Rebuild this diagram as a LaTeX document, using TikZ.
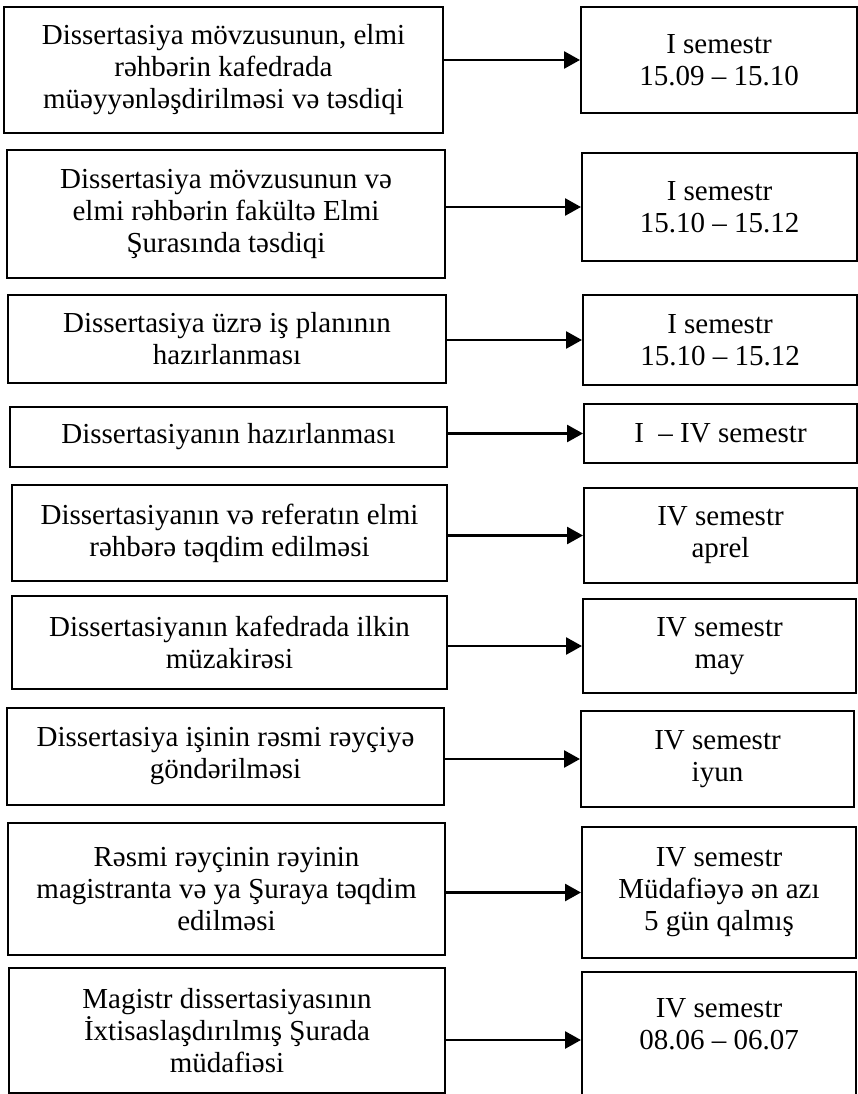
\documentclass[tikz,border=0pt]{standalone}
\usepackage{fontspec}
\setmainfont{Liberation Serif}
\usepackage{tikz}
\usetikzlibrary{positioning, calc, arrows.meta}

\begin{document}
\begin{tikzpicture}[x=1pt, y=-1pt,
    stagebox/.style={draw, line width=2pt, inner sep=0pt, align=center,
        font=\fontsize{29}{32}\selectfont},
    termbox/.style={stagebox},
    arrow/.style={-{Triangle[length=16pt,width=17pt]}, line width=2.7pt}]
    % Page frame
    \useasboundingbox (0,0) rectangle (858,1094);

    % Stages (left column)
    \node[stagebox, minimum width=439pt, minimum height=126pt] (l1) at (223.5,70)
        {Dissertasiya mövzusunun, elmi\\rəhbərin kafedrada\\müəyyənləşdirilməsi və təsdiqi};
    \node[stagebox, minimum width=438pt, minimum height=128pt] (l2) at (226,214)
        {Dissertasiya mövzusunun və\\elmi rəhbərin fakültə Elmi\\Şurasında təsdiqi};
    \node[stagebox, minimum width=438pt, minimum height=88pt] (l3) at (227,339)
        {Dissertasiya üzrə iş planının\\hazırlanması};
    \node[stagebox, minimum width=437pt, minimum height=60pt] (l4) at (228.5,437)
        {Dissertasiyanın hazırlanması};
    \node[stagebox, minimum width=435pt, minimum height=96pt] (l5) at (229.5,533)
        {Dissertasiyanın və referatın elmi\\rəhbərə təqdim edilməsi};
    \node[stagebox, minimum width=435pt, minimum height=93pt] (l6) at (229.5,642.5)
        {Dissertasiyanın kafedrada ilkin\\müzakirəsi};
    \node[stagebox, minimum width=437pt, minimum height=97pt] (l7) at (225.5,756.5)
        {Dissertasiya işinin rəsmi rəyçiyə\\göndərilməsi};
    \node[stagebox, minimum width=437pt, minimum height=132pt] (l8) at (226.5,889)
        {Rəsmi rəyçinin rəyinin\\magistranta və ya Şuraya təqdim\\edilməsi};
    \node[stagebox, minimum width=436pt, minimum height=125pt] (l9) at (227,1030.5)
        {Magistr dissertasiyasının\\İxtisaslaşdırılmış Şurada\\müdafiəsi};

    % Terms (right column)
    \node[termbox, minimum width=276pt, minimum height=106pt] (r1) at (719,60)
        {I semestr\\15.09 – 15.10};
    \node[termbox, minimum width=275pt, minimum height=108pt] (r2) at (719.5,207)
        {I semestr\\15.10 – 15.12};
    \node[termbox, minimum width=274pt, minimum height=90pt] (r3) at (720,340)
        {I semestr\\15.10 – 15.12};
    \node[termbox, minimum width=273pt, minimum height=59pt] (r4) at (720.5,433.5)
        {I \ – IV semestr};
    \node[termbox, minimum width=273pt, minimum height=95pt] (r5) at (720.5,535.5)
        {IV semestr\\aprel};
    \node[termbox, minimum width=273pt, minimum height=94pt] (r6) at (719.5,646)
        {IV semestr\\may};
    \node[termbox, minimum width=273pt, minimum height=96pt] (r7) at (717.5,759)
        {IV semestr\\iyun};
    \node[termbox, minimum width=274pt, minimum height=131pt] (r8) at (719,892.5)
        {IV semestr\\Müdafiəyə ən azı\\5 gün qalmış};
    \node[termbox, minimum width=274pt, minimum height=136pt] (r9) at (719,1040)
        {IV semestr\\08.06 – 06.07\\\mbox{}};

    % Arrows
    \foreach \i in {1,...,9}
        \draw[arrow] (r\i.west -| l\i.east) -- (r\i.west);
\end{tikzpicture}
\end{document}
